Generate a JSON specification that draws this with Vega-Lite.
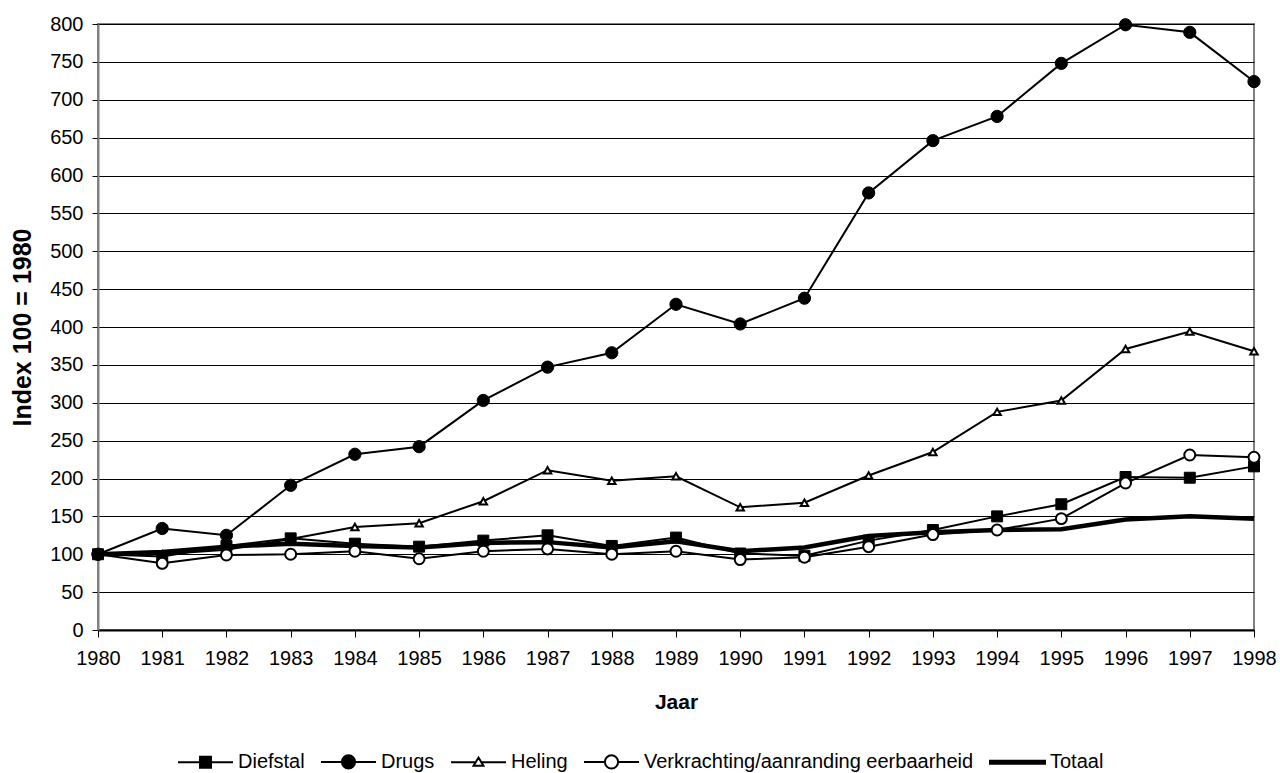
{
  "$schema": "https://vega.github.io/schema/vega-lite/v6.json",
  "width": 1156,
  "height": 606,
  "autosize": {"type": "none"},
  "padding": {"left": 98, "top": 24, "right": 26, "bottom": 143},
  "background": "white",
  "config": {
    "font": "Liberation Sans",
    "view": {"stroke": "#808080", "strokeWidth": 2},
    "axis": {
      "labelFont": "Liberation Sans",
      "labelFontSize": 20,
      "labelColor": "black",
      "titleFont": "Liberation Sans",
      "titleFontSize": 21,
      "titleFontWeight": "bold",
      "titleColor": "black",
      "tickColor": "black",
      "tickSize": 6
    },
    "legend": {
      "labelFont": "Liberation Sans",
      "labelFontSize": 20,
      "labelColor": "black",
      "labelLimit": 500
    }
  },
  "data": {
    "values": [
      {"year": 1980, "series": "Diefstal", "value": 100},
      {"year": 1981, "series": "Diefstal", "value": 97},
      {"year": 1982, "series": "Diefstal", "value": 111},
      {"year": 1983, "series": "Diefstal", "value": 121},
      {"year": 1984, "series": "Diefstal", "value": 114},
      {"year": 1985, "series": "Diefstal", "value": 110},
      {"year": 1986, "series": "Diefstal", "value": 118},
      {"year": 1987, "series": "Diefstal", "value": 125},
      {"year": 1988, "series": "Diefstal", "value": 111},
      {"year": 1989, "series": "Diefstal", "value": 122},
      {"year": 1990, "series": "Diefstal", "value": 101},
      {"year": 1991, "series": "Diefstal", "value": 98},
      {"year": 1992, "series": "Diefstal", "value": 118},
      {"year": 1993, "series": "Diefstal", "value": 132},
      {"year": 1994, "series": "Diefstal", "value": 150},
      {"year": 1995, "series": "Diefstal", "value": 166},
      {"year": 1996, "series": "Diefstal", "value": 202},
      {"year": 1997, "series": "Diefstal", "value": 201},
      {"year": 1998, "series": "Diefstal", "value": 216},
      {"year": 1980, "series": "Drugs", "value": 100},
      {"year": 1981, "series": "Drugs", "value": 134},
      {"year": 1982, "series": "Drugs", "value": 125},
      {"year": 1983, "series": "Drugs", "value": 191},
      {"year": 1984, "series": "Drugs", "value": 232},
      {"year": 1985, "series": "Drugs", "value": 242},
      {"year": 1986, "series": "Drugs", "value": 303},
      {"year": 1987, "series": "Drugs", "value": 347},
      {"year": 1988, "series": "Drugs", "value": 366},
      {"year": 1989, "series": "Drugs", "value": 430},
      {"year": 1990, "series": "Drugs", "value": 404},
      {"year": 1991, "series": "Drugs", "value": 438},
      {"year": 1992, "series": "Drugs", "value": 577},
      {"year": 1993, "series": "Drugs", "value": 646},
      {"year": 1994, "series": "Drugs", "value": 678},
      {"year": 1995, "series": "Drugs", "value": 748},
      {"year": 1996, "series": "Drugs", "value": 799},
      {"year": 1997, "series": "Drugs", "value": 789},
      {"year": 1998, "series": "Drugs", "value": 724},
      {"year": 1980, "series": "Heling", "value": 100},
      {"year": 1981, "series": "Heling", "value": 100},
      {"year": 1982, "series": "Heling", "value": 106},
      {"year": 1983, "series": "Heling", "value": 120},
      {"year": 1984, "series": "Heling", "value": 136},
      {"year": 1985, "series": "Heling", "value": 141},
      {"year": 1986, "series": "Heling", "value": 170},
      {"year": 1987, "series": "Heling", "value": 211},
      {"year": 1988, "series": "Heling", "value": 197},
      {"year": 1989, "series": "Heling", "value": 203},
      {"year": 1990, "series": "Heling", "value": 162},
      {"year": 1991, "series": "Heling", "value": 168},
      {"year": 1992, "series": "Heling", "value": 204},
      {"year": 1993, "series": "Heling", "value": 235},
      {"year": 1994, "series": "Heling", "value": 288},
      {"year": 1995, "series": "Heling", "value": 303},
      {"year": 1996, "series": "Heling", "value": 371},
      {"year": 1997, "series": "Heling", "value": 394},
      {"year": 1998, "series": "Heling", "value": 368},
      {"year": 1980, "series": "Verkrachting/aanranding eerbaarheid", "value": 100},
      {"year": 1981, "series": "Verkrachting/aanranding eerbaarheid", "value": 88},
      {"year": 1982, "series": "Verkrachting/aanranding eerbaarheid", "value": 99},
      {"year": 1983, "series": "Verkrachting/aanranding eerbaarheid", "value": 100},
      {"year": 1984, "series": "Verkrachting/aanranding eerbaarheid", "value": 104},
      {"year": 1985, "series": "Verkrachting/aanranding eerbaarheid", "value": 94},
      {"year": 1986, "series": "Verkrachting/aanranding eerbaarheid", "value": 104},
      {"year": 1987, "series": "Verkrachting/aanranding eerbaarheid", "value": 107},
      {"year": 1988, "series": "Verkrachting/aanranding eerbaarheid", "value": 100},
      {"year": 1989, "series": "Verkrachting/aanranding eerbaarheid", "value": 104},
      {"year": 1990, "series": "Verkrachting/aanranding eerbaarheid", "value": 93},
      {"year": 1991, "series": "Verkrachting/aanranding eerbaarheid", "value": 96},
      {"year": 1992, "series": "Verkrachting/aanranding eerbaarheid", "value": 110},
      {"year": 1993, "series": "Verkrachting/aanranding eerbaarheid", "value": 126},
      {"year": 1994, "series": "Verkrachting/aanranding eerbaarheid", "value": 132},
      {"year": 1995, "series": "Verkrachting/aanranding eerbaarheid", "value": 147},
      {"year": 1996, "series": "Verkrachting/aanranding eerbaarheid", "value": 194},
      {"year": 1997, "series": "Verkrachting/aanranding eerbaarheid", "value": 231},
      {"year": 1998, "series": "Verkrachting/aanranding eerbaarheid", "value": 228},
      {"year": 1980, "series": "Totaal", "value": 100},
      {"year": 1981, "series": "Totaal", "value": 103},
      {"year": 1982, "series": "Totaal", "value": 110},
      {"year": 1983, "series": "Totaal", "value": 114},
      {"year": 1984, "series": "Totaal", "value": 111},
      {"year": 1985, "series": "Totaal", "value": 109},
      {"year": 1986, "series": "Totaal", "value": 115},
      {"year": 1987, "series": "Totaal", "value": 116},
      {"year": 1988, "series": "Totaal", "value": 109},
      {"year": 1989, "series": "Totaal", "value": 117},
      {"year": 1990, "series": "Totaal", "value": 104},
      {"year": 1991, "series": "Totaal", "value": 109},
      {"year": 1992, "series": "Totaal", "value": 124},
      {"year": 1993, "series": "Totaal", "value": 129},
      {"year": 1994, "series": "Totaal", "value": 132},
      {"year": 1995, "series": "Totaal", "value": 133},
      {"year": 1996, "series": "Totaal", "value": 146},
      {"year": 1997, "series": "Totaal", "value": 150},
      {"year": 1998, "series": "Totaal", "value": 147}
    ]
  },
  "encoding": {
    "x": {
      "field": "year",
      "type": "quantitative",
      "scale": {"domain": [1980, 1998], "nice": false, "zero": false},
      "axis": {
        "title": "Jaar",
        "values": [1980, 1981, 1982, 1983, 1984, 1985, 1986, 1987, 1988, 1989, 1990, 1991, 1992, 1993, 1994, 1995, 1996, 1997, 1998],
        "format": "d",
        "grid": false,
        "domainColor": "black",
        "domainWidth": 2,
        "tickSize": 7,
        "labelPadding": 11,
        "labelFlush": false,
        "labelOverlap": false,
        "titleY": 72,
        "titleBaseline": "middle"
      }
    },
    "y": {
      "field": "value",
      "type": "quantitative",
      "scale": {"domain": [0, 800], "nice": false},
      "axis": {
        "title": "Index 100 = 1980",
        "titleFontSize": 25,
        "values": [0, 50, 100, 150, 200, 250, 300, 350, 400, 450, 500, 550, 600, 650, 700, 750, 800],
        "grid": true,
        "gridColor": "black",
        "gridWidth": 1,
        "gridOpacity": 1,
        "domainColor": "#808080",
        "domainWidth": 2,
        "labelPadding": 9,
        "labelOverlap": false,
        "titleX": -76,
        "titleY": 303,
        "titleAngle": 270,
        "titleAlign": "center",
        "titleBaseline": "middle"
      }
    }
  },
  "layer": [
    {
      "transform": [{"filter": "datum.series === 'Totaal'"}],
      "mark": {"type": "line", "stroke": "black", "strokeWidth": 4.5},
      "encoding": {"detail": {"field": "series"}}
    },
    {
      "transform": [{"filter": "datum.series !== 'Totaal'"}],
      "mark": {"type": "line", "stroke": "black", "strokeWidth": 2},
      "encoding": {"detail": {"field": "series"}}
    },
    {
      "transform": [{"filter": "datum.series === 'Heling'"}],
      "mark": {"type": "point", "shape": "triangle-up", "filled": true, "fill": "white", "stroke": "black", "strokeWidth": 2, "size": 55, "opacity": 1}
    },
    {
      "transform": [{"filter": "datum.series === 'Diefstal'"}],
      "mark": {"type": "point", "shape": "square", "filled": true, "fill": "black", "stroke": "black", "strokeWidth": 1, "size": 120, "opacity": 1}
    },
    {
      "transform": [{"filter": "datum.series === 'Verkrachting/aanranding eerbaarheid'"}],
      "mark": {"type": "point", "shape": "circle", "filled": true, "fill": "white", "stroke": "black", "strokeWidth": 2, "size": 120, "opacity": 1}
    },
    {
      "transform": [{"filter": "datum.series === 'Drugs'"}],
      "mark": {"type": "point", "shape": "circle", "filled": true, "fill": "black", "stroke": "black", "strokeWidth": 1, "size": 150, "opacity": 1}
    },
    {
      "transform": [{"filter": "false"}],
      "mark": {"type": "point", "color": "black", "filled": false, "opacity": 1},
      "encoding": {
        "shape": {
          "field": "series",
          "type": "nominal",
          "scale": {
            "domain": ["Diefstal", "Drugs", "Heling", "Verkrachting/aanranding eerbaarheid", "Totaal"],
            "range": [
              "M-1,0H1M-0.2,-0.2H0.2V0.2H-0.2Z",
              "M-1,0H1M-0.24,0A0.24,0.24 0 1,0 0.24,0A0.24,0.24 0 1,0 -0.24,0Z",
              "M-1,0H-0.1M0.1,0H1M0,-0.17L0.18,0.13L-0.18,0.13Z",
              "M-1,0H-0.24M0.24,0H1M-0.24,0A0.24,0.24 0 1,0 0.24,0A0.24,0.24 0 1,0 -0.24,0Z",
              "M-1,-0.055H1V0.055H-1Z"
            ]
          },
          "legend": {
            "title": null,
            "orient": "none",
            "direction": "horizontal",
            "legendX": 79,
            "legendY": 709,
            "symbolSize": 3025,
            "symbolStrokeWidth": 2,
            "labelOffset": 4,
            "columnPadding": 12,
            "labelFontSize": 20,
            "labelLimit": 500,
            "encode": {"symbols": {"update": {"stroke": {"value": "black"}, "strokeOpacity": {"value": 1}, "strokeWidth": {"value": 2}}}}
          }
        },
        "fill": {
          "field": "series",
          "type": "nominal",
          "scale": {
            "domain": ["Diefstal", "Drugs", "Heling", "Verkrachting/aanranding eerbaarheid", "Totaal"],
            "range": ["black", "black", "white", "white", "black"]
          },
          "legend": {
            "title": null,
            "orient": "none",
            "direction": "horizontal",
            "legendX": 79,
            "legendY": 709,
            "symbolSize": 3025,
            "symbolStrokeWidth": 2,
            "labelOffset": 4,
            "columnPadding": 12,
            "labelFontSize": 20,
            "labelLimit": 500,
            "encode": {"symbols": {"update": {"stroke": {"value": "black"}, "strokeOpacity": {"value": 1}, "strokeWidth": {"value": 2}}}}
          }
        }
      }
    }
  ]
}
